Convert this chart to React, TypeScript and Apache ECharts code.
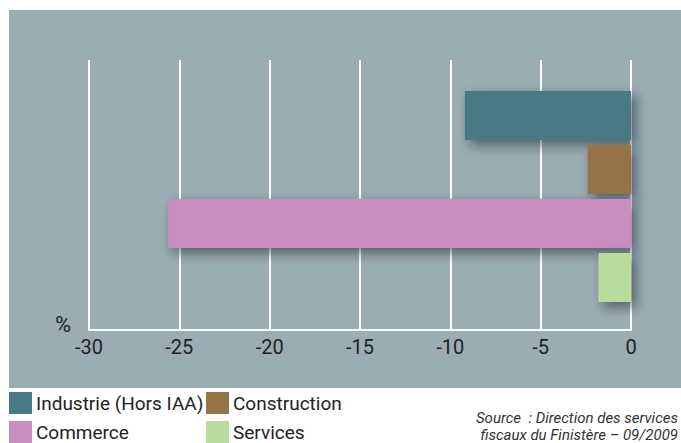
import React, { useEffect, useRef } from "react";
import * as echarts from "echarts";

const categories = ["Industrie (Hors IAA)", "Construction", "Commerce", "Services"];
const values = [-9.2, -2.4, -25.6, -1.8];
const xMin = -30;
const xMax = 0;
const xInterval = 5;
const unitLabel = "%";
const sourceLines = ["Source  : Direction des services", "fiscaux du Finistère – 09/2009"];

const colors = ["#477a85", "#967347", "#c98dbf", "#b8dc9b"];
const FONT = "'Liberation Sans Narrow', 'Roboto', sans-serif";

export default function App() {
  const ref = useRef<HTMLDivElement>(null);
  useEffect(() => {
    document.body.style.margin = "0";
    const chart = echarts.init(ref.current!, null, { renderer: "svg" });
    const series = categories.map((name, i) => ({
      name,
      type: "bar",
      stack: "all",
      xAxisIndex: 0,
      yAxisIndex: 0,
      barWidth: 49,
      data: categories.map((_, j) => (j === i ? values[i] : "-")),
      itemStyle: {
        color: colors[i],
        shadowBlur: 12,
        shadowOffsetX: 5,
        shadowOffsetY: 5,
        shadowColor: "rgba(20,30,40,0.55)",
      },
    }));
    const legendText = { fontSize: 19, color: "#222222", fontFamily: FONT, padding: [0, 0, 0, -1] };
    chart.setOption({
      animation: false,
      textStyle: { fontFamily: FONT },
      grid: [
        { left: 89, right: 50, top: 88.5, height: 216 },
        { left: 89, right: 50, top: 60, height: 270 },
      ],
      xAxis: [
        { gridIndex: 0, type: "value", min: xMin, max: xMax, interval: xInterval, show: false },
        {
          gridIndex: 1,
          type: "value",
          min: xMin,
          max: xMax,
          interval: xInterval,
          axisLine: { show: true, onZero: false, lineStyle: { color: "#ffffff", width: 2 } },
          axisTick: { show: false },
          splitLine: { show: true, lineStyle: { color: "#ffffff", width: 2 } },
          axisLabel: { color: "#222222", fontSize: 20, margin: 7, fontFamily: FONT },
        },
      ],
      yAxis: [
        { gridIndex: 0, type: "category", inverse: true, data: categories, show: false },
        { gridIndex: 1, type: "value", min: 0, max: 1, show: false },
      ],
      legend: [
        {
          data: [categories[0], categories[2]],
          orient: "vertical",
          left: 9,
          top: 392,
          icon: "rect",
          itemWidth: 23,
          itemHeight: 22,
          itemGap: 7,
          padding: 0,
          textStyle: legendText,
        },
        {
          data: [categories[1], categories[3]],
          orient: "vertical",
          left: 206,
          top: 392,
          icon: "rect",
          itemWidth: 23,
          itemHeight: 22,
          itemGap: 7,
          padding: 0,
          textStyle: legendText,
        },
      ],
      graphic: [
        {
          type: "rect",
          z: -100,
          silent: true,
          shape: { x: 9, y: 10, width: 672, height: 378 },
          style: { fill: "#9aacb4" },
        },
        {
          type: "text",
          x: 63,
          y: 324,
          style: {
            text: unitLabel,
            fill: "#222222",
            fontSize: 22,
            fontFamily: FONT,
            align: "center",
            verticalAlign: "middle",
          },
        },
        {
          type: "text",
          x: 678,
          y: 409,
          style: {
            text: sourceLines.join("\n"),
            fill: "#333333",
            fontSize: 15,
            lineHeight: 17,
            fontStyle: "italic",
            fontFamily: FONT,
            align: "right",
            verticalAlign: "top",
          },
        },
      ],
      series,
    });
    return () => chart.dispose();
  }, []);
  return (
    <div
      ref={ref}
      style={{ position: "absolute", left: 0, top: 0, width: 681, height: 443 }}
    />
  );
}
